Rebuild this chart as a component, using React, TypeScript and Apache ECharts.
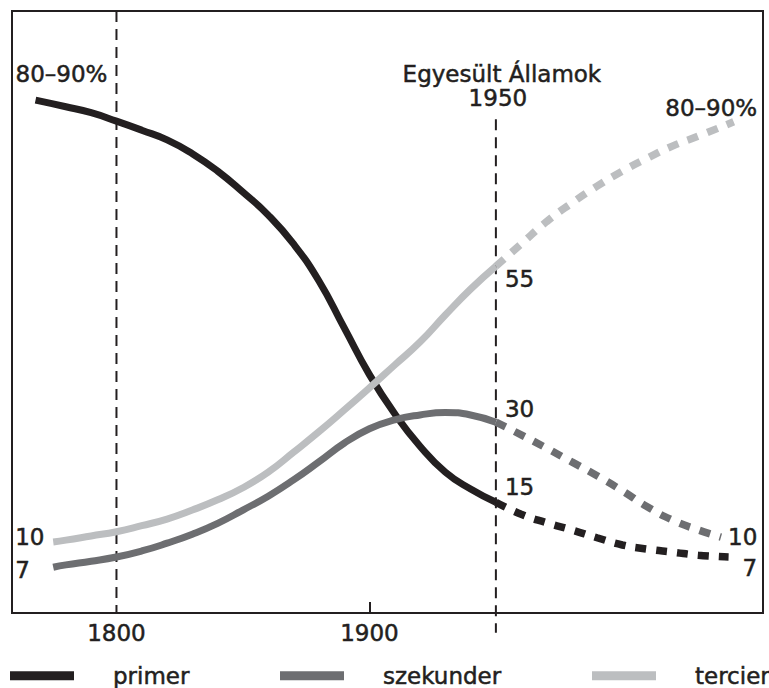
import React, { useEffect, useRef } from "react";
import * as echarts from "echarts";

// ---- data (y in %, x in years) ----
const primerSolid: number[][] = [
  [1768, 85.2], [1780, 84.1], [1790, 83.1], [1800, 81.7], [1810, 80.2], [1820, 78.6],
  [1830, 76.3], [1840, 73.4], [1850, 69.9], [1860, 66.1], [1870, 61.3], [1880, 55.2],
  [1890, 47.4], [1900, 39.6], [1910, 33.1], [1920, 27.7], [1930, 23.4], [1940, 20.6], [1950, 18.4],
];
const primerDashed: number[][] = [
  [1950, 18.4], [1960, 16.4], [1970, 15.0], [1980, 13.8], [1990, 12.5], [2000, 11.3],
  [2010, 10.6], [2020, 10.1], [2030, 9.6], [2042, 9.3],
];
const szekunderSolid: number[][] = [
  [1775, 7.6], [1780, 8.0], [1790, 8.6], [1800, 9.3], [1810, 10.3], [1820, 11.6],
  [1830, 13.1], [1840, 14.9], [1850, 17.1], [1860, 19.4], [1870, 22.1], [1880, 25.1],
  [1890, 28.2], [1900, 30.6], [1910, 32.1], [1920, 32.9], [1930, 33.3], [1940, 32.9], [1950, 31.7],
];
const szekunderDashed: number[][] = [
  [1950, 31.7], [1960, 29.6], [1970, 27.4], [1980, 25.1], [1990, 22.8], [2000, 20.3],
  [2010, 17.6], [2020, 15.4], [2030, 13.8], [2039, 12.6],
];
const tercierSolid: number[][] = [
  [1775, 11.8], [1780, 12.1], [1790, 12.8], [1800, 13.5], [1810, 14.5], [1820, 15.6],
  [1830, 17.1], [1840, 18.8], [1850, 20.8], [1860, 23.4], [1870, 26.7], [1880, 30.1],
  [1890, 33.7], [1900, 37.4], [1910, 41.2], [1920, 45.0], [1930, 49.5], [1940, 53.8], [1950, 57.6],
];
const tercierDashed: number[][] = [
  [1950, 57.6], [1960, 61.3], [1970, 65.0], [1980, 68.1], [1990, 70.9], [2000, 73.4],
  [2010, 75.6], [2020, 77.6], [2030, 79.2], [2044, 81.6],
];

const seriesNames = ["primer", "szekunder", "tercier"];
const xTickLabels = [1800, 1900];
const xInnerTicks = [1900];
const refYears = [1800, 1950];
const refTop = [100, 82];
const refBottom = [0, -3.3];
const refTitle = "Egyesült Államok";
const refYearLabel = "1950";
const endLabels = ["80–90%", "80–90%", "55", "30", "15", "10", "7", "10", "7"];

const INK = "#231f20";
const COLORS = ["#231f20", "#6d6e71", "#bcbec0"];
const FONT = '"DejaVu Sans", "Noto Sans", sans-serif';
const TXT = { fill: INK, fontSize: 23, fontFamily: FONT, stroke: INK, lineWidth: 0.5 };

export default function App() {
  const ref = useRef<HTMLDivElement>(null);
  useEffect(() => {
    if (!ref.current) return;
    const chart = echarts.init(ref.current, undefined, { renderer: "svg" });
    const last = (a: number[][]) => a[a.length - 1];

    // label anchors come from the data; offsets are only styling
    const anchors = [
      primerSolid[0], last(tercierDashed), last(tercierSolid), last(szekunderSolid),
      last(primerSolid), tercierSolid[0], szekunderSolid[0], last(szekunderDashed), last(primerDashed),
    ];
    const offsets = [
      [-20, -26, "left"], [23.5, -14, "right"], [9, 13, "left"], [9, -13, "left"],
      [9, -15, "left"], [-38, -5, "left"], [-38, 3, "left"], [7, 0, "left"], [28.5, 11, "right"],
    ];

    const lineSeries = (name: string, data: number[][], color: string, dashed: boolean) => ({
      type: "line",
      name,
      data,
      smooth: 0.5,
      showSymbol: false,
      symbol: "none",
      silent: true,
      z: 3,
      itemStyle: { color },
      lineStyle: {
        color,
        width: dashed ? 7.5 : 7,
        type: dashed ? [11, 10] : "solid",
        cap: "butt",
      },
    });

    const option: any = {
      animation: false,
      grid: {
        left: 12, top: 11, right: 6, bottom: 75,
        show: true, borderColor: INK, borderWidth: 2, backgroundColor: "transparent",
      },
      xAxis: {
        type: "value",
        min: 1758.7,
        max: 2055.6,
        axisLine: { show: false },
        splitLine: { show: false },
        axisTick: {
          show: true, inside: true, length: 11, customValues: xInnerTicks,
          lineStyle: { color: INK, width: 2 },
        },
        axisLabel: {
          show: true, customValues: xTickLabels, margin: 8,
          formatter: (v: number) => String(Math.round(v)),
          color: INK, fontSize: 23, fontFamily: FONT,
          textBorderColor: INK, textBorderWidth: 0.5,
        },
      },
      yAxis: { type: "value", min: 0, max: 100, show: false },
      legend: seriesNames.map((n, i) => ({
        data: [{ name: n, icon: "rect", itemStyle: { color: COLORS[i] } }],
        left: [10, 280, 592][i],
        top: 664,
        padding: 0,
        itemWidth: 64,
        itemHeight: 9,
        selectedMode: false,
        textStyle: {
          color: INK, fontSize: 23, fontFamily: FONT, lineHeight: 23,
          padding: [0, 0, 0, 34], textBorderColor: INK, textBorderWidth: 0.5,
        },
      })),
      series: [
        {
          type: "custom",
          name: "ref",
          silent: true,
          clip: false,
          z: 1,
          data: refYears.map((y, i) => [y, refTop[i], refBottom[i]]),
          renderItem: (params: any, api: any) => {
            const p1 = api.coord([api.value(0), api.value(1)]);
            const p2 = api.coord([api.value(0), api.value(2)]);
            return {
              type: "line",
              shape: { x1: p1[0], y1: p1[1], x2: p2[0], y2: p2[1] },
              style: { stroke: INK, lineWidth: 2, lineDash: [11, 7] },
            };
          },
        },
        lineSeries(seriesNames[0], primerSolid, COLORS[0], false),
        lineSeries(seriesNames[0], primerDashed, COLORS[0], true),
        lineSeries(seriesNames[1], szekunderSolid, COLORS[1], false),
        lineSeries(seriesNames[1], szekunderDashed, COLORS[1], true),
        lineSeries(seriesNames[2], tercierSolid, COLORS[2], false),
        lineSeries(seriesNames[2], tercierDashed, COLORS[2], true),
        {
          type: "custom",
          name: "labels",
          silent: true,
          clip: false,
          z: 5,
          data: anchors,
          renderItem: (params: any, api: any) => {
            const i = params.dataIndex;
            const p = api.coord([api.value(0), api.value(1)]);
            const o = offsets[i] as any[];
            return {
              type: "text",
              x: p[0] + o[0],
              y: p[1] + o[1],
              style: { ...TXT, text: endLabels[i], align: o[2], verticalAlign: "middle" },
            };
          },
        },
        {
          type: "custom",
          name: "refLabels",
          silent: true,
          clip: false,
          z: 5,
          data: [[refYears[1], refTop[1]]],
          renderItem: (params: any, api: any) => {
            const p = api.coord([api.value(0), api.value(1)]);
            return {
              type: "group",
              children: [
                {
                  type: "text", x: p[0] + 2, y: p[1] - 21,
                  style: { ...TXT, text: refYearLabel, align: "center", verticalAlign: "middle" },
                },
                {
                  type: "text", x: p[0] + 6, y: p[1] - 45,
                  style: { ...TXT, text: refTitle, align: "center", verticalAlign: "middle" },
                },
              ],
            };
          },
        },
      ],
    };
    chart.setOption(option);
    return () => chart.dispose();
  }, []);
  return (
    <div
      ref={ref}
      style={{ position: "absolute", left: 0, top: 0, width: 769, height: 688 }}
    />
  );
}
